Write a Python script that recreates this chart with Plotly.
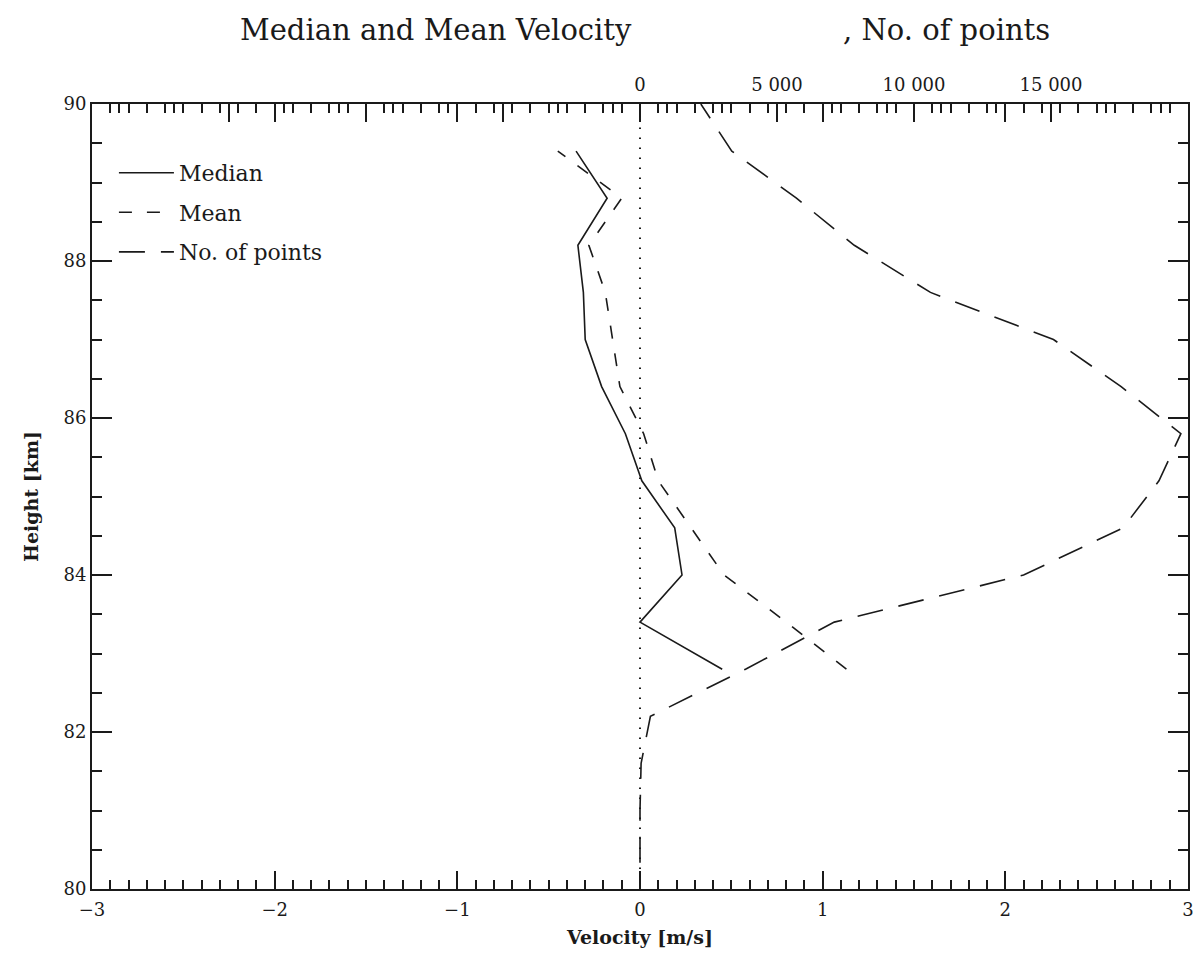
import plotly.graph_objects as go

# ---- data ----
heights = [82.8, 83.4, 84.0, 84.6, 85.2, 85.8, 86.4, 87.0, 87.6, 88.2, 88.8, 89.4]
median_vel = [0.45, 0.00, 0.23, 0.19, 0.01, -0.08, -0.21, -0.30, -0.31, -0.34, -0.18, -0.35]
mean_vel = [1.13, 0.80, 0.46, 0.28, 0.10, 0.02, -0.11, -0.15, -0.19, -0.28, -0.10, -0.45]

points_heights = [79.8, 80.4, 81.0, 81.6, 82.2, 82.8, 83.4, 84.0, 84.6, 85.2, 85.8,
                  86.4, 87.0, 87.6, 88.2, 88.8, 89.4, 90.0]
points_count = [0, 0, 0, 40, 380, 3850, 7090, 14000, 17630, 18940, 19740,
                17560, 15090, 10600, 7820, 5710, 3350, 2220]

vel_ticks = [-3, -2, -1, 0, 1, 2, 3]
height_ticks = [80, 82, 84, 86, 88, 90]
count_tickvals = [-15000, -10000, -5000, 0, 5000, 10000, 15000]
count_ticktext = ["", "", "", "0", "5 000", "10 000", "15 000"]

FONT = "DejaVu Serif"
INK = "#1a1a1a"

fig = go.Figure()

fig.add_trace(go.Scatter(
    x=median_vel, y=heights, mode="lines", name="Median",
    line=dict(color=INK, width=1.6), legendgroup="a",
    xaxis="x", yaxis="y"))
fig.add_trace(go.Scatter(
    x=mean_vel, y=heights, mode="lines", name="Mean",
    line=dict(color=INK, width=1.6, dash="13px,15px"), legendgroup="b",
    xaxis="x", yaxis="y"))
fig.add_trace(go.Scatter(
    x=points_count, y=points_heights, mode="lines", name="No. of points",
    line=dict(color=INK, width=1.6, dash="26px,16px"), legendgroup="c",
    xaxis="x2", yaxis="y"))

# dotted zero-velocity reference line
fig.add_vline(x=0, line=dict(color=INK, width=2, dash="1.5px,8.5px"))

tickfont = dict(family=FONT, size=18, color=INK)

# plot area in page pixels: x 92..1190, y 104..890 (page has an 8px body margin)
fig.update_layout(
    width=1190, height=941,
    margin=dict(l=84, r=4, t=96, b=59),
    paper_bgcolor="white", plot_bgcolor="white",
    showlegend=True,
    legend=dict(
        x=0.02, y=0.939, xanchor="left", yanchor="top",
        font=dict(family=FONT, size=22, color=INK),
        bgcolor="rgba(0,0,0,0)", tracegroupgap=8, itemwidth=55,
    ),
    xaxis=dict(
        range=[-3, 3], tickvals=vel_ticks, ticks="inside", ticklen=18, tickwidth=1.5,
        tickcolor=INK, showline=True, linecolor=INK, linewidth=2, mirror="ticks",
        showgrid=False, zeroline=False, tickfont=tickfont, ticklabelstandoff=3,
        minor=dict(dtick=0.1, tick0=0, ticks="inside", ticklen=9, tickwidth=1.5,
                   tickcolor=INK, showgrid=False),
        title=dict(text="<b>Velocity [m/s]</b>", font=dict(family=FONT, size=19, color=INK),
                   standoff=12),
    ),
    xaxis2=dict(
        overlaying="x", side="top", anchor="y", range=[-20000, 20000],
        tickmode="array", tickvals=count_tickvals, ticktext=count_ticktext,
        ticks="inside", ticklen=18, tickwidth=1.5, tickcolor=INK,
        showline=False, showgrid=False, zeroline=False, tickfont=tickfont,
        ticklabelstandoff=8,
        minor=dict(dtick=1000, tick0=0, ticks="inside", ticklen=9, tickwidth=1.5,
                   tickcolor=INK, showgrid=False),
    ),
    yaxis=dict(
        range=[80, 90], tickvals=height_ticks, ticks="inside", ticklen=20, tickwidth=1.5,
        tickcolor=INK, showline=True, linecolor=INK, linewidth=2, mirror="ticks",
        showgrid=False, zeroline=False, tickfont=tickfont,
        minor=dict(dtick=0.5, tick0=80, ticks="inside", ticklen=10, tickwidth=1.5,
                   tickcolor=INK, showgrid=False),
        title=dict(text="<b>Height [km]</b>", font=dict(family=FONT, size=19, color=INK),
                   standoff=20),
    ),
    annotations=[
        dict(text="Median and Mean Velocity", xref="paper", yref="paper",
             x=(437 - 92) / 1098, y=1 + (104 - 30) / 786, xanchor="center", yanchor="middle",
             showarrow=False, font=dict(family=FONT, size=29, color=INK)),
        dict(text=", No. of points", xref="paper", yref="paper",
             x=(948 - 92) / 1098, y=1 + (104 - 30) / 786, xanchor="center", yanchor="middle",
             showarrow=False, font=dict(family=FONT, size=29, color=INK)),
    ],
)

fig.write_html("out.html")
